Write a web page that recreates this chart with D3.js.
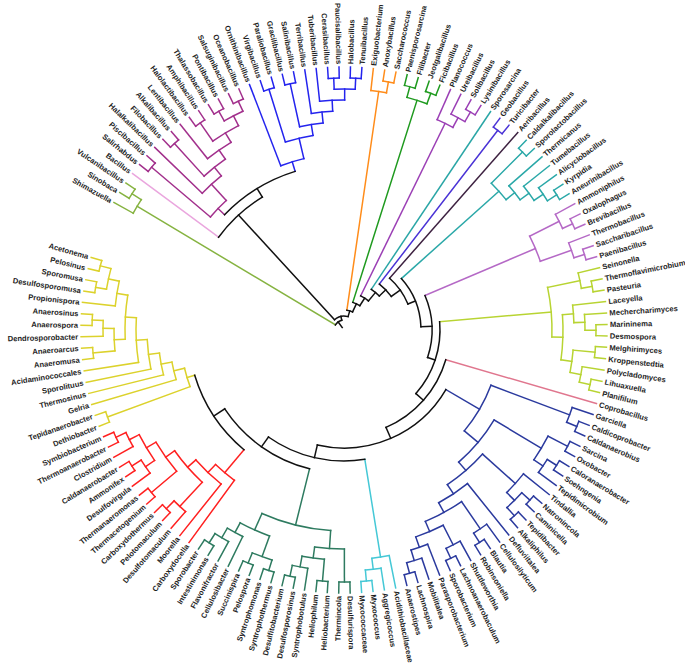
<!DOCTYPE html>
<html><head><meta charset="utf-8">
<script src="https://cdn.jsdelivr.net/npm/d3@7"></script>
<style>body{margin:0;background:#fff}</style>
</head><body>
<svg id="chart" width="685" height="664"></svg>
<script>
// ---- data ----
const cladeNames = ["Olive","Bacillus","Magenta","BlueB","Orange","Green","Purple","Sporosarcina","GeoTuri","Aeribacillus","Teal","Orchid","Thermo","Coprobacillus","Navy","Cyan","DarkGreen","Red","Yellow"];
const cladeTrees = [
  "(Shimazuella,(Sinobaca,Vulcanibacillus))",
  "Bacillus",
  "((Salirhabdus,Piscibacillus),(Halalkalibacillus,((Filobacillus,Alkalibacillus),(Lentibacillus,((Halolactibacillus,Amphibacillus),((Thalassobacillus,Pontibacillus),(Salsuginibacillus,Oceanobacillus)))))))",
  "(Ornithinibacillus,((Virgibacillus,Paraliobacillus),((Gracilibacillus,Salinibacillus),(Terribacillus,(Tuberibacillus,((Cerasibacillus,Paucisalibacillus),(Halobacillus,Tenuibacillus)))))))",
  "(Exiguobacterium,(Anoxybacillus,Saccharococcus))",
  "((Paenisporosarcina,Filibacter),(Jeotgalibacillus,Ficibacillus))",
  "(Planococcus,(Ureibacillus,(Solibacillus,Lysinibacillus)))",
  "Sporosarcina",
  "(Geobacillus,Turicibacter)",
  "Aeribacillus",
  "((Caldalkalibacillus,Sporolactobacillus),(Thermicanus,(Tumebacillus,(Alicyclobacillus,(Kyrpidia,Aneurinibacillus)))))",
  "((Ammoniphilus,(Oxalophagus,Brevibacillus)),(Thermobacillus,(Saccharibacillus,Paenibacillus)))",
  "((Seinonella,(Thermoflavimicrobium,Pasteuria)),((Laceyella,(Mechercharimyces,(Marininema,Desmospora))),((Melghirimyces,Kroppenstedtia),(Polycladomyces,(Lihuaxuella,Planifilum)))))",
  "Coprobacillus",
  "((Garciella,(Caldicoprobacter,Caldanaerobius)),(((Sarcina,Oxobacter),((Caloranaerobacter,Soehngenia),Tepidimicrobium)),((Tindallia,((Natronincola,Caminicella),(Tepidibacter,Alkaliphilus))),(Defluviitalea,((Cellulosilyticum,(Blautia,Robinsoniella)),((Shuttleworthia,(Lachnoanaerobaculum,Sporobacterium)),(Parasporobacterium,(Mobilitalea,(Lachnospira,Anaerostipes)))))))))",
  "(Acidithiobacillaceae,(Aggregicoccus,(Myxococcus,Myxococcaceae)))",
  "(((Desulfurispora,Thermincola),((Heliobacterium,Heliophilum),(Syntrophobotulus,(Desulfosporosinus,Desulfitobacterium)))),(((Syntrophothermus,Syntrophomonas),(Pelospora,Succinispira)),(Cellulosibacter,(Flavonifractor,(Intestinimonas,Sporobacter)))))",
  "(Carboxydocella,(Moorella,((Desulfotomaculum,(Pelotomaculum,Carboxydothermus)),((Thermacetogenium,Thermanaeromonas),((Desulfovirgula,(Ammonifex,Caldanaerobacter)),(Clostridium,(Thermoanaerobacter,Symbiobacterium)))))))",
  "((Dethiobacter,Tepidanaerobacter),(Gelria,(Thermosinus,(Sporolituus,(Acidaminococcales,(((Anaeromusa,Anaeroarcus),(Dendrosporobacter,(Anaerospora,Anaerosinus))),(Propionispora,((Desulfosporomusa,Sporomusa),(Pelosinus,Acetonema)))))))))"
];
// clade root depth overrides (same units as tip depth), null = from level rule
const cladeRootDepth = [null,null,175,176,null,null,null,null,null,null,null,208,null,null,157,null,201,null,null];
// backbone ladder (clockwise), depth of each ladder node
const spineClades = ["Olive","Bacillaceae","Orange","Green","Purple","Sporosarcina","GeoTuri","Aeribacillus","Teal","Orchid","Thermo","Coprobacillus","Navy","Cyan","DarkGreen","Red","Yellow"];
const spineDepth = [10,14,20,29,38,49,58,69,77,88,96,106,118,131,143,156];
const bacillaceaeDepth = [156,166];
const tipDepth = 263, levelStep = 11;
const arcStartDeg = 207.75, arcSpanDeg = 349.5;

// ---- style ----
const palette = ["#86b341","#eaa6de","#a2308c","#2424ee","#ff8c1a","#1f9a1f","#9b3fb5","#2aa6a6","#4a33d6","#3d2140","#2aa8a8","#b569c6","#b8d432","#e0768e","#2b3a9e","#45c8d6","#2e7b60","#ff2020","#dcd22c"];

function parseNewick(s){
  let i=0;
  function node(){
    if(s[i]==='('){
      i++; const children=[node()];
      while(s[i]===','){ i++; children.push(node()); }
      i++; return {children};
    }
    let name=''; while(i<s.length && !',()'.includes(s[i])) name+=s[i++];
    return {name:name.trim()};
  }
  return node();
}
function mark(t,k){ t.clade=k; (t.children||[]).forEach(c=>mark(c,k)); }
function cladeNode(name){
  const k=cladeNames.indexOf(name);
  const t=parseNewick(cladeTrees[k]); mark(t,k);
  if(cladeRootDepth[k]!=null && t.children) t.fixedDepth=cladeRootDepth[k];
  return t;
}
function sub(name){
  if(name==="Bacillaceae"){
    return {clade:-1, fixedDepth:bacillaceaeDepth[0], children:[cladeNode("Bacillus"),
      {clade:-1, fixedDepth:bacillaceaeDepth[1], children:[cladeNode("Magenta"),cladeNode("BlueB")]}]};
  }
  return cladeNode(name);
}
const n=spineClades.length;
let spine={clade:-1, fixedDepth:spineDepth[n-2], children:[sub(spineClades[n-2]),sub(spineClades[n-1])]};
for(let j=n-3;j>=0;j--){
  spine={clade:-1, fixedDepth:spineDepth[j], children:[sub(spineClades[j]),spine]};
}

const root=d3.hierarchy(spine);
d3.cluster().size([arcSpanDeg,1]).separation(()=>1)(root);
const angle=d3.scaleLinear().domain([0,arcSpanDeg]).range([arcStartDeg,arcStartDeg+arcSpanDeg]);
const radius=d3.scaleLinear().domain([0,tipDepth]).range([0,263]);
root.each(d=>{
  const dep = d.children ? (d.data.fixedDepth!=null ? d.data.fixedDepth : tipDepth-levelStep*d.height) : tipDepth;
  d.r=radius(dep);
  d.a=angle(d.x)*Math.PI/180;
});
const colorOf=d=> d.data.clade>=0 ? palette[d.data.clade] : "#111";

const svg=d3.select("#chart");
const g=svg.append("g").attr("transform","translate(344,330)");

// links (radial segments)
const links=g.append("g").attr("fill","none").attr("stroke-width",1.5).attr("stroke-linecap","square");
root.descendants().forEach(d=>{
  if(!d.parent) return;
  const p=d3.path();
  p.moveTo(d.parent.r*Math.cos(d.a), d.parent.r*Math.sin(d.a));
  p.lineTo(d.r*Math.cos(d.a), d.r*Math.sin(d.a));
  links.append("path").attr("d",p.toString()).attr("stroke",colorOf(d));
});
// arcs
root.descendants().forEach(d=>{
  if(!d.children) return;
  const a0=d3.min(d.children,c=>c.a), a1=d3.max(d.children,c=>c.a);
  const p=d3.path();
  p.moveTo(d.r*Math.cos(a0), d.r*Math.sin(a0));
  p.arc(0,0,d.r,a0,a1);
  links.append("path").attr("d",p.toString()).attr("stroke",colorOf(d));
});
// root stub
links.append("path").attr("stroke","#111")
  .attr("d",`M${3*Math.cos(root.a)},${3*Math.sin(root.a)}L${root.r*Math.cos(root.a)},${root.r*Math.sin(root.a)}`);

// labels
g.append("g").selectAll("text").data(root.leaves()).join("text")
  .attr("transform",d=>{
    const deg=((d.a*180/Math.PI)%360+360)%360;
    const flip=deg>90&&deg<270;
    return `rotate(${deg}) translate(${d.r+3},0)`+(flip?" rotate(180)":"");
  })
  .attr("text-anchor",d=>{const deg=((d.a*180/Math.PI)%360+360)%360; return (deg>90&&deg<270)?"end":"start";})
  .attr("dy","0.35em")
  .attr("font-family","'Liberation Sans', Arial, sans-serif")
  .attr("font-weight","bold")
  .attr("font-size","7.6px")
  .attr("fill","#1e1e1e")
  .text(d=>d.data.name);
</script>
</body></html>
